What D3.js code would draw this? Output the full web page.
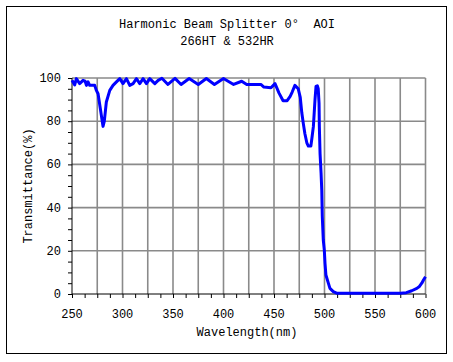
<!DOCTYPE html>
<html>
<head>
<meta charset="utf-8">
<script src="https://cdn.jsdelivr.net/npm/d3@7"></script>
<style>
  body { margin: 0; background: #fff; }
  text { font-family: "Liberation Mono", "DejaVu Sans Mono", monospace; fill: #000; }
</style>
</head>
<body>
<div id="chart"></div>
<script>
// data
const wavelength = [250, 252.7, 254.3, 257.6, 260.9, 263, 264.3, 265.9, 267.5, 270, 272.5, 274, 275.8, 278, 280.7, 282, 284, 287.4, 290.6, 294, 297.3, 300.5, 303.9, 307.2, 310.5, 313.8, 317.1, 320.4, 323.7, 327, 332, 335.3, 339, 345, 352, 358, 366, 375, 383, 391, 400, 410, 418, 423, 437, 440, 447, 451, 455, 459, 463, 466, 468, 470.7, 474, 476, 477.5, 479, 480.6, 482.5, 484, 486.5, 487.5, 489, 490.6, 491.6, 492.9, 493.8, 494.6, 494.9, 495.6, 496.6, 497.3, 497.8, 498.8, 499.8, 500.5, 501.4, 503.8, 505.4, 508.7, 512, 530, 560, 575, 581, 586.4, 591.4, 594, 596.3, 598, 600];
const transmittance = [99, 96.8, 99.7, 97.4, 98.9, 98.5, 96.6, 98.2, 96.6, 96.6, 96.6, 94.4, 92.7, 86, 77.6, 80, 88.9, 94.3, 96.6, 98.2, 99.7, 97.4, 99.7, 96.6, 97.4, 99.7, 97.4, 99.7, 97.4, 99.7, 97.4, 98.9, 99.9, 97, 99.8, 97, 99.8, 97, 99.8, 97, 99.8, 97, 98.5, 97, 97, 95.8, 95.5, 97.4, 93, 89.5, 89.5, 91.5, 93.5, 96.6, 95, 91, 84, 79, 74.2, 70, 68.5, 68.5, 72, 77.6, 90, 96.1, 96.4, 95, 88.4, 77.4, 65, 56, 48, 36, 25, 20.4, 14.2, 8.8, 5, 2.6, 1.1, 0.4, 0.3, 0.3, 0.4, 0.6, 1.5, 2.6, 3.5, 5, 6.5, 8];
const xTicks = [250, 300, 350, 400, 450, 500, 550, 600];
const yTicks = [0, 20, 40, 60, 80, 100];
const titleLines = ["Harmonic Beam Splitter 0°  AOI", "266HT & 532HR"];

const width = 453, height = 362;
const svg = d3.select("#chart").append("svg")
    .attr("width", width)
    .attr("height", height);

// outer frame
svg.append("rect")
    .attr("x", 6.5).attr("y", 6.5)
    .attr("width", 440).attr("height", 347)
    .attr("fill", "none").attr("stroke", "#000").attr("stroke-width", 1);

const x = d3.scaleLinear().domain([250, 600]).range([72, 425.5]);
const y = d3.scaleLinear().domain([0, 100]).range([294, 78]);

// grid
const grid = svg.append("g").attr("stroke", "#8a8a8a").attr("stroke-width", 1.6);
grid.selectAll(".vx")
    .data(d3.range(275, 601, 25))
    .join("line")
    .attr("x1", d => x(d)).attr("x2", d => x(d))
    .attr("y1", y(0)).attr("y2", y(100));
grid.selectAll(".hy")
    .data(yTicks.filter(d => d > 0))
    .join("line")
    .attr("x1", x(250)).attr("x2", x(600))
    .attr("y1", d => y(d)).attr("y2", d => y(d));

// axes
const xAxis = svg.append("g")
    .attr("transform", `translate(0,${y(0)})`)
    .call(d3.axisBottom(x).tickValues(d3.range(250, 601, 12.5)).tickSize(4).tickFormat(""));
xAxis.select(".domain").attr("d", `M${x(250)},0H${x(600)}`);

const yAxis = svg.append("g")
    .attr("transform", `translate(${x(250)},0)`)
    .call(d3.axisLeft(y).tickValues(d3.range(0, 101, 5)).tickSize(4).tickFormat(""));
yAxis.select(".domain").attr("d", `M0,${y(0)}V${y(100)}`);

svg.selectAll(".xlab")
    .data(xTicks)
    .join("text")
    .attr("x", d => x(d))
    .attr("y", 318)
    .attr("text-anchor", "middle")
    .attr("font-size", 12)
    .text(d => d);

svg.selectAll(".ylab")
    .data(yTicks)
    .join("text")
    .attr("x", 61)
    .attr("y", d => y(d) + 4)
    .attr("text-anchor", "end")
    .attr("font-size", 12)
    .text(d => d);

// curve
const pts = wavelength.map((w, i) => [w, transmittance[i]]);
svg.append("path")
    .datum(pts)
    .attr("fill", "none")
    .attr("stroke", "#0000ff")
    .attr("stroke-width", 3)
    .attr("stroke-linejoin", "round")
    .attr("d", d3.line().x(d => x(d[0])).y(d => y(d[1])));

// titles
svg.selectAll(".title")
    .data(titleLines)
    .join("text")
    .attr("x", 227)
    .attr("y", (d, i) => 28 + i * 17)
    .attr("text-anchor", "middle")
    .attr("font-size", 12)
    .style("white-space", "pre")
    .text(d => d);

svg.append("text")
    .attr("x", 247).attr("y", 336)
    .attr("text-anchor", "middle")
    .attr("font-size", 12)
    .text("Wavelength(nm)");

svg.append("text")
    .attr("transform", "translate(32,186) rotate(-90)")
    .attr("text-anchor", "middle")
    .attr("font-size", 12)
    .text("Transmittance(%)");
</script>
</body>
</html>
